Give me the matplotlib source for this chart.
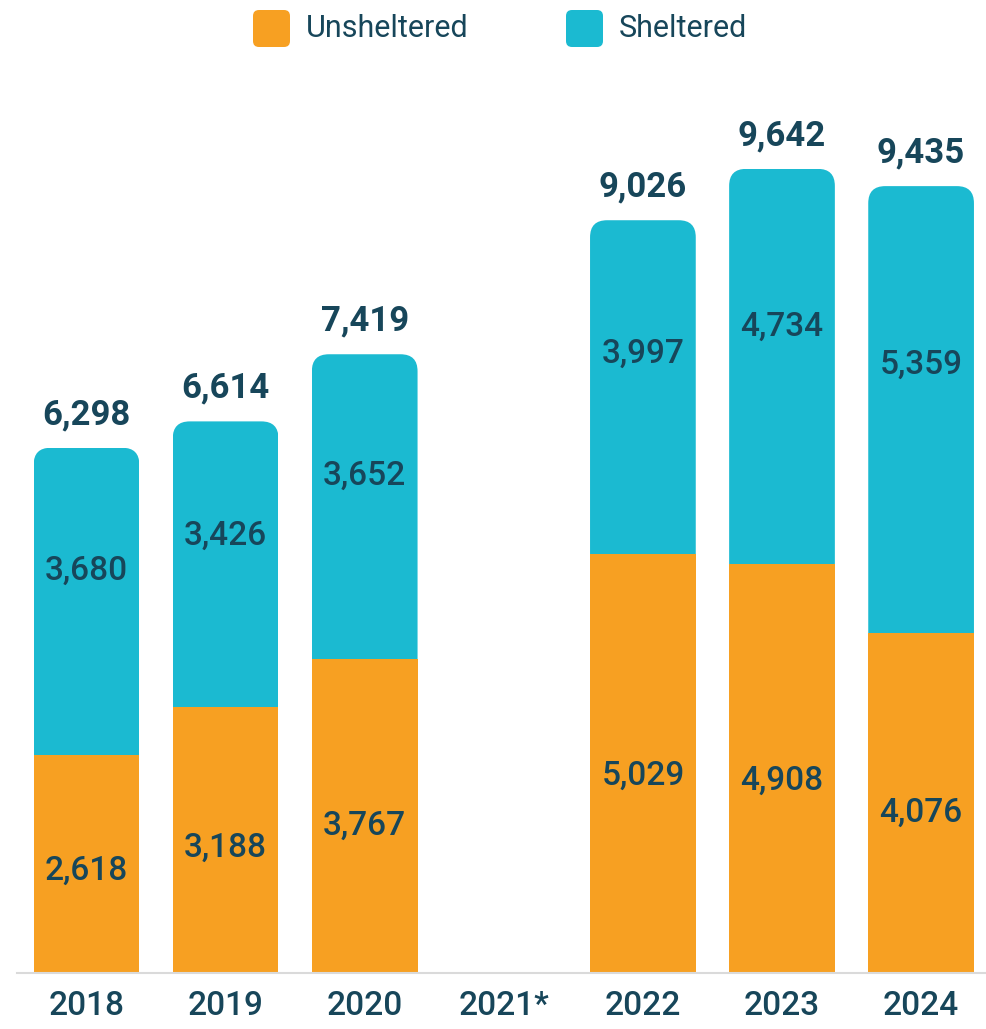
import matplotlib
matplotlib.use("Agg")
import matplotlib.pyplot as plt
from matplotlib.patches import FancyBboxPatch
from matplotlib import font_manager as fm

years = ["2018", "2019", "2020", "2021*", "2022", "2023", "2024"]
unsheltered = [2618, 3188, 3767, 0, 5029, 4908, 4076]
sheltered = [3680, 3426, 3652, 0, 3997, 4734, 5359]
totals = [6298, 6614, 7419, 0, 9026, 9642, 9435]

ORANGE = "#F7A022"
TEAL = "#1BBAD1"
TEXT = "#17465A"
GRID = "#DADADA"

avail = {f.name for f in fm.fontManager.ttflist}
fam = [f for f in ["Liberation Sans Narrow", "Roboto", "DejaVu Sans"] if f in avail]
plt.rcParams["font.family"] = fam

W, H = 987, 1029
fig = plt.figure(figsize=(W / 100, H / 100), dpi=100)
ax_left = 17 / W
ax_bottom = 1 - 973 / H
ax_top_px = 95
ax = fig.add_axes([ax_left, ax_bottom, 1 - ax_left, (973 - ax_top_px) / H])

x = list(range(len(years)))
c0, step = 86.5, 139.1
xlim = ((17 - c0) / step, (987 - c0) / step)
ylim_top = (973 - ax_top_px) / 0.0834
ax.set_xlim(*xlim)
ax.set_ylim(0, ylim_top)
width = 0.76

px_per_x = step
px_per_y = 0.0834
r_px = 17
r_x = r_px / px_per_x
r_y = r_px / px_per_y
aspect = r_y / r_x

bars_s = ax.bar(x, sheltered, width, bottom=unsheltered, color=TEAL, zorder=2)
bars_u = ax.bar(x, unsheltered, width, color=ORANGE, zorder=3)

for b in bars_s:
    if b.get_height() <= 0:
        continue
    b.set_alpha(0)
    top = b.get_y() + b.get_height()
    start = b.get_y() - 2 * r_y
    p = FancyBboxPatch((b.get_x(), start), b.get_width(), top - start,
                       boxstyle=f"round,pad=0,rounding_size={r_x}",
                       mutation_aspect=aspect, facecolor=TEAL, edgecolor="none",
                       zorder=2)
    ax.add_patch(p)
    p.set_clip_path(b)

for i in x:
    if totals[i] == 0:
        continue
    ax.annotate(f"{totals[i]:,}", (i, totals[i]), xytext=(0, 12),
                textcoords="offset points", ha="center", va="bottom",
                fontsize=25, fontweight="bold", color=TEXT)
    ax.text(i, unsheltered[i] * 0.47, f"{unsheltered[i]:,}", ha="center",
            va="center", fontsize=24, fontweight="medium", color=TEXT, zorder=5)
    ax.text(i, unsheltered[i] + sheltered[i] * 0.6, f"{sheltered[i]:,}",
            ha="center", va="center", fontsize=24, fontweight="medium",
            color=TEXT, zorder=5)

for s in ["top", "right", "left"]:
    ax.spines[s].set_visible(False)
ax.spines["bottom"].set_color(GRID)
ax.spines["bottom"].set_linewidth(1.5)
ax.spines["bottom"].set_zorder(4)
ax.set_yticks([])
ax.set_xticks(x)
ax.set_xticklabels(years, fontsize=24, color=TEXT, fontweight="medium")
ax.tick_params(axis="x", length=0, pad=12)

def legend_item(x0_px, label, color):
    sq = 37
    y0 = 10
    p = FancyBboxPatch((x0_px / W, 1 - (y0 + sq) / H), sq / W, sq / H,
                       boxstyle=f"round,pad=0,rounding_size={6 / W}",
                       mutation_aspect=W / H, transform=fig.transFigure,
                       facecolor=color, edgecolor="none")
    fig.add_artist(p)
    fig.text((x0_px + sq + 16) / W, 1 - (y0 + sq / 2) / H, label,
             ha="left", va="center", fontsize=22, color=TEXT)

legend_item(253, "Unsheltered", ORANGE)
legend_item(566, "Sheltered", TEAL)

fig.savefig("out.png", dpi=100)
